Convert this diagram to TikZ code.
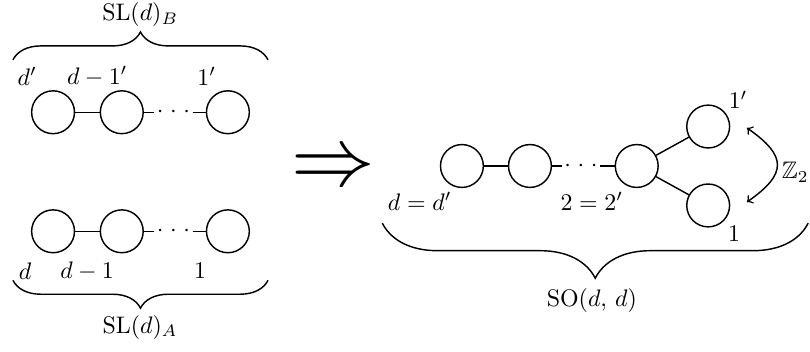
\documentclass[tikz,border=0pt]{standalone}
\usepackage{amsmath}
\usepackage{amsfonts}
\usepackage{amssymb}
\usepackage{tikz}
\usetikzlibrary{decorations.pathreplacing}

\begin{document}
\begin{tikzpicture}[semithick,
  root/.style={circle, draw, minimum size=6.3mm, inner sep=0pt},
  gap/.style={inner sep=0.75pt},
  curly/.style={decorate, decoration={brace, amplitude=#1}}]
  \useasboundingbox (0,0) rectangle (11.907cm, 5.160cm);
  % SL(d)_B
  \node (b1) [root] at (0.78cm, 3.51cm) {};
  \node (b2) [root] at (1.79cm, 3.51cm) {};
  \node (bd) [gap] at (2.55cm, 3.51cm) {$\cdotp\mkern2mu\cdotp\mkern2mu\cdotp$};
  \node (b3) [root] at (3.35cm, 3.51cm) {};
  \draw (b1) -- (b2);
  \draw (b2) -- (bd);
  \draw (bd) -- (b3);
  \node (lb1) at (0.40cm, 4.04cm) {$d'$};
  \node (lb2) at (1.43cm, 4.04cm) {$d-1'$};
  \node (lb3) at (3.04cm, 4.04cm) {$1'$};
  \coordinate (bl) at (0.19cm, 4.28cm);
  \coordinate (br) at (3.94cm, 4.28cm);
  \draw [curly=0.41cm] (bl) -- (br);
  \node (slb) at (2.06cm, 4.94cm) {$\mathrm{SL}(d)_B$};
  % SL(d)_A
  \node (a1) [root] at (0.78cm, 1.76cm) {};
  \node (a2) [root] at (1.79cm, 1.76cm) {};
  \node (ad) [gap] at (2.55cm, 1.76cm) {$\cdotp\mkern2mu\cdotp\mkern2mu\cdotp$};
  \node (a3) [root] at (3.35cm, 1.76cm) {};
  \draw (a1) -- (a2);
  \draw (a2) -- (ad);
  \draw (ad) -- (a3);
  \node (la1) at (0.37cm, 1.18cm) {$d$};
  \node (la2) at (1.28cm, 1.18cm) {$d-1$};
  \node (la3) at (2.94cm, 1.18cm) {$1$};
  \coordinate (al) at (0.19cm, 1.04cm);
  \coordinate (ar) at (3.94cm, 1.04cm);
  \draw [curly=0.41cm, decoration={mirror}] (al) -- (ar);
  \node (sla) at (2.06cm, 0.35cm) {$\mathrm{SL}(d)_A$};
  % implies
  \node (impl) [scale=3.5] at (4.90cm, 2.66cm) {$\Rightarrow$};
  % SO(d,d)
  \node (c1) [root] at (6.79cm, 2.72cm) {};
  \node (c2) [root] at (7.79cm, 2.72cm) {};
  \node (cd) [gap] at (8.54cm, 2.72cm) {$\cdotp\mkern2mu\cdotp\mkern2mu\cdotp$};
  \node (c3) [root] at (9.36cm, 2.72cm) {};
  \node (cu) [root] at (10.41cm, 3.30cm) {};
  \node (cl) [root] at (10.41cm, 2.14cm) {};
  \draw (c1) -- (c2);
  \draw (c2) -- (cd);
  \draw (cd) -- (c3);
  \draw (c3) -- (cu);
  \draw (c3) -- (cl);
  \node (lc1) at (6.17cm, 2.20cm) {$d=d'$};
  \node (lc3) at (8.70cm, 2.20cm) {$2=2'$};
  \node (lcu) at (10.85cm, 3.69cm) {$1'$};
  \node (lcl) at (10.79cm, 1.73cm) {$1$};
  \coordinate (zt) at (10.98cm, 3.28cm);
  \coordinate (zb) at (10.98cm, 2.19cm);
  \draw [<->] (zt) to[out=-35, in=35, looseness=1.7] (zb);
  \node (z2) at (11.69cm, 2.63cm) {$\mathbb{Z}_2$};
  \coordinate (cl0) at (5.62cm, 1.88cm);
  \coordinate (cr0) at (11.88cm, 1.88cm);
  \draw [curly=0.81cm, decoration={mirror}] (cl0) -- (cr0);
  \node (so) at (8.70cm, 0.74cm) {$\mathrm{SO}(d,\,d)$};
\end{tikzpicture}
\end{document}
